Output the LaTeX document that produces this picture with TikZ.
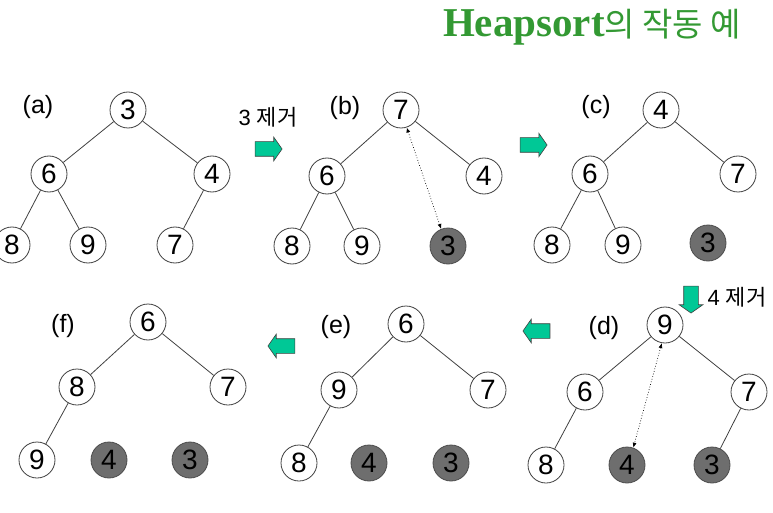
\documentclass[tikz,border=0pt]{standalone}
\usepackage{fontspec}
\setmainfont{Liberation Sans}
\newfontfamily\korfont{Noto Sans CJK KR}
\newfontfamily\titlefont{Liberation Serif}
\usetikzlibrary{arrows.meta,shapes.arrows}
\definecolor{HeapGreen}{HTML}{339933}
\definecolor{StepTeal}{HTML}{00C896}
\definecolor{EdgeGray}{HTML}{404040}
\definecolor{DoneGray}{HTML}{6E6E6E}

\begin{document}
\begin{tikzpicture}[x=1pt, y=-1pt,
    key/.style={circle, draw=EdgeGray, fill=white, line width=0.8pt, minimum size=36pt,
      inner sep=0pt, font=\fontsize{28}{28}\selectfont},
    done/.style={key, fill=DoneGray, draw=black!70},
    tag/.style={font=\fontsize{25}{25}\selectfont},
    note/.style={font=\fontsize{22}{22}\selectfont},
    link/.style={draw=EdgeGray, line width=0.8pt},
    swap/.style={{Latex[length=5pt,width=4pt]}-{Latex[length=5pt,width=4pt]}, dotted, line width=0.7pt},
    stepper/.style={single arrow, draw=EdgeGray, fill=StepTeal, line width=0.6pt,
      minimum height=27pt, inner sep=7pt, single arrow head extend=4.5pt,
      single arrow tip angle=110}
  ]
    \useasboundingbox (0,0) rectangle (773,513);
    % title
    \node[text=HeapGreen] (title) at (592,27)
      {\titlefont\bfseries\fontsize{41}{41}\selectfont Heapsort\korfont\mdseries\fontsize{33}{33}\selectfont 의 작동 예};
    % (a)
    \node[tag] (la) at (38,107) {(a)};
    \node[key] (a1) at (128,110) {3};
    \node[key] (a2) at (49,174) {6};
    \node[key] (a3) at (212,174) {4};
    \node[key] (a4) at (12,245) {8};
    \node[key] (a5) at (88,245) {9};
    \node[key] (a6) at (175,245) {7};
    \draw[link] (a1) -- (a2);
    \draw[link] (a1) -- (a3);
    \draw[link] (a2) -- (a4);
    \draw[link] (a2) -- (a5);
    \draw[link] (a3) -- (a6);
    % a -> b
    \node[note] (n3) at (268,117) {3 {\korfont 제거}};
    \node[stepper] (ab) at (266,149) {};
    % (b)
    \node[tag] (lb) at (345,108) {(b)};
    \node[key] (b1) at (401,110) {7};
    \node[key] (b2) at (327,176) {6};
    \node[key] (b3) at (484,176) {4};
    \node[key] (b4) at (292,246) {8};
    \node[key] (b5) at (362,246) {9};
    \node[done] (b6) at (448,246) {3};
    \draw[link] (b1) -- (b2);
    \draw[link] (b1) -- (b3);
    \draw[link] (b2) -- (b4);
    \draw[link] (b2) -- (b5);
    \draw[swap] (b1.-72) -- (b6.112);
    % b -> c
    \node[stepper] (bc) at (531,145) {};
    % (c)
    \node[tag] (lc) at (596,107) {(c)};
    \node[key] (c1) at (661,110) {4};
    \node[key] (c2) at (590,174) {6};
    \node[key] (c3) at (738,174) {7};
    \node[key] (c4) at (552,245) {8};
    \node[key] (c5) at (623,245) {9};
    \node[done] (c6) at (708,243) {3};
    \draw[link] (c1) -- (c2);
    \draw[link] (c1) -- (c3);
    \draw[link] (c2) -- (c4);
    \draw[link] (c2) -- (c5);
    % c -> d
    \node[stepper, shape border rotate=270] (cd) at (691,297) {};
    \node[note] (n4) at (737,297) {4 {\korfont 제거}};
    % (d)
    \node[tag] (ld) at (604,328) {(d)};
    \node[key] (d1) at (665,325) {9};
    \node[key] (d2) at (585,392) {6};
    \node[key] (d3) at (749,392) {7};
    \node[key] (d4) at (546,465) {8};
    \node[done] (d5) at (627,465) {4};
    \node[done] (d6) at (712,465) {3};
    \draw[link] (d1) -- (d2);
    \draw[link] (d1) -- (d3);
    \draw[link] (d2) -- (d4);
    \draw[link] (d3) -- (d6);
    \draw[swap] (d1.-100) -- (d5.70);
    % d -> e
    \node[stepper, shape border rotate=180] (de) at (539,331) {};
    % (e)
    \node[tag] (le) at (336,327) {(e)};
    \node[key] (e1) at (406,324) {6};
    \node[key] (e2) at (339,390) {9};
    \node[key] (e3) at (488,390) {7};
    \node[key] (e4) at (299,463) {8};
    \node[done] (e5) at (369,463) {4};
    \node[done] (e6) at (451,463) {3};
    \draw[link] (e1) -- (e2);
    \draw[link] (e1) -- (e3);
    \draw[link] (e2) -- (e4);
    % e -> f
    \node[stepper, shape border rotate=180] (ef) at (284,346) {};
    % (f)
    \node[tag] (lf) at (63,326) {(f)};
    \node[key] (f1) at (148,322) {6};
    \node[key] (f2) at (77,387) {8};
    \node[key] (f3) at (228,387) {7};
    \node[key] (f4) at (37,460) {9};
    \node[done] (f5) at (109,460) {4};
    \node[done] (f6) at (190,460) {3};
    \draw[link] (f1) -- (f2);
    \draw[link] (f1) -- (f3);
    \draw[link] (f2) -- (f4);
  \end{tikzpicture}
\end{document}
